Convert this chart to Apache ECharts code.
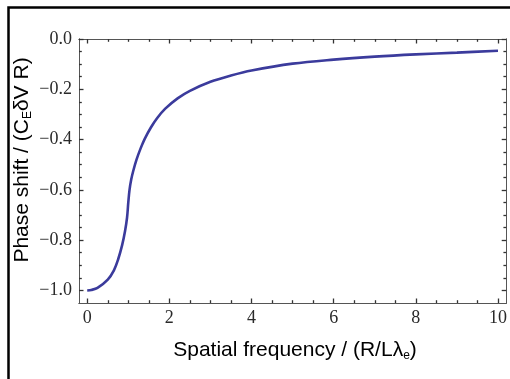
<!DOCTYPE html>
<html>
<head>
<meta charset="utf-8">
<script src="https://cdn.jsdelivr.net/npm/echarts@6/dist/echarts.min.js"></script>
<style>
html,body{margin:0;padding:0;background:#fff;}
#chart{width:510px;height:379px;}
</style>
</head>
<body>
<div id="chart"></div>
<script>
// Data
var freq  = [0, 0.1, 0.25, 0.5, 0.65, 0.75, 0.85, 0.92, 0.97, 1.0, 1.03, 1.07, 1.12, 1.2, 1.3, 1.4, 1.55, 1.7, 1.9, 2.2, 2.5, 3.0, 3.5, 4, 5, 6, 7, 8, 9, 10];
var phase = [-1.0, -0.998, -0.99, -0.957, -0.92, -0.878, -0.82, -0.765, -0.71, -0.65, -0.6, -0.56, -0.525, -0.48, -0.435, -0.397, -0.352, -0.315, -0.277, -0.236, -0.206, -0.17, -0.145, -0.125, -0.098, -0.082, -0.07, -0.061, -0.054, -0.047];
var xMajorTicks = [0, 2, 4, 6, 8, 10];
var xMinorTicks = [0.5, 1, 1.5, 2.5, 3, 3.5, 4.5, 5, 5.5, 6.5, 7, 7.5, 8.5, 9, 9.5];
var yMajorTicks = [0, -0.2, -0.4, -0.6, -0.8, -1.0];
var yMinorTicks = [-0.05, -0.1, -0.15, -0.25, -0.3, -0.35, -0.45, -0.5, -0.55, -0.65, -0.7, -0.75, -0.85, -0.9, -0.95];
var xName = ['Spatial frequency / (R/L\u03bb', 'e', ')'];
var yName = ['Phase shift / (C', 'E', '\u03b4V R)'];

var XMIN = -0.2, XMAX = 10.2, YMIN = -1.05, YMAX = 0;
var frameColor = '#555';
var tickColor = '#333';
var labelFont = {fontFamily: 'Liberation Serif', fontSize: 18, color: '#2a2a2a'};

function fmt(v) { return v.toFixed(1).replace('-', '\u2212'); }

function xAx(pos, ticks, len, labels) {
  return {
    type: 'value', position: pos, min: XMIN, max: XMAX,
    splitLine: {show: false},
    axisLine: {show: true, onZero: false, lineStyle: {color: frameColor, width: 1}},
    axisTick: {show: true, inside: true, length: len, customValues: ticks, lineStyle: {color: tickColor, width: 1.3}},
    axisLabel: labels ? Object.assign({show: true, customValues: ticks, margin: 6, formatter: function(v){return String(Math.round(v));}}, labelFont) : {show: false}
  };
}
function yAx(pos, ticks, len, labels) {
  return {
    type: 'value', position: pos, min: YMIN, max: YMAX,
    splitLine: {show: false},
    axisLine: {show: true, onZero: false, lineStyle: {color: frameColor, width: 1}},
    axisTick: {show: true, inside: true, length: len, customValues: ticks, lineStyle: {color: tickColor, width: 1.3}},
    axisLabel: labels ? Object.assign({show: true, customValues: ticks, margin: 7, formatter: fmt}, labelFont) : {show: false}
  };
}

var chart = echarts.init(document.getElementById('chart'), null, {renderer: 'canvas'});
var data = freq.map(function(f, i){ return [f, phase[i]]; });

var nameRich = {
  n: {fontFamily: 'Liberation Sans', fontSize: 21, color: '#000', lineHeight: 24, verticalAlign: 'middle'},
  s: {fontFamily: 'Liberation Sans', fontSize: 12, color: '#000', lineHeight: 24, verticalAlign: 'bottom'}
};

chart.setOption({
  animation: false,
  backgroundColor: '#fff',
  grid: {left: 79, right: 1, top: 39, bottom: 76, containLabel: false},
  xAxis: [
    xAx('bottom', xMajorTicks, 4.5, true),
    xAx('bottom', xMinorTicks, 2.8, false),
    xAx('top', xMajorTicks, 4.5, false),
    xAx('top', xMinorTicks, 2.8, false)
  ],
  yAxis: [
    yAx('left', yMajorTicks, 4.5, true),
    yAx('left', yMinorTicks, 2.8, false),
    yAx('right', yMajorTicks, 4.5, false),
    yAx('right', yMinorTicks, 2.8, false)
  ],
  series: [{
    type: 'line', xAxisIndex: 0, yAxisIndex: 0,
    data: data, showSymbol: false, smooth: 0.35,
    lineStyle: {color: '#3b3b9c', width: 2.6}
  }],
  graphic: [
    {type: 'rect', shape: {x: 8.5, y: 7.5, width: 700, height: 700}, style: {fill: null, stroke: '#000', lineWidth: 2.5}, z: 100},
    {type: 'text', x: 295, y: 350, style: {
      text: '{n|' + xName[0] + '}{s|' + xName[1] + '}{n|' + xName[2] + '}',
      align: 'center', verticalAlign: 'middle', rich: nameRich}},
    {type: 'text', x: 22, y: 160, rotation: Math.PI / 2, style: {
      text: '{n|' + yName[0] + '}{s|' + yName[1] + '}{n|' + yName[2] + '}',
      align: 'center', verticalAlign: 'middle', rich: nameRich}}
  ]
});
</script>
</body>
</html>
